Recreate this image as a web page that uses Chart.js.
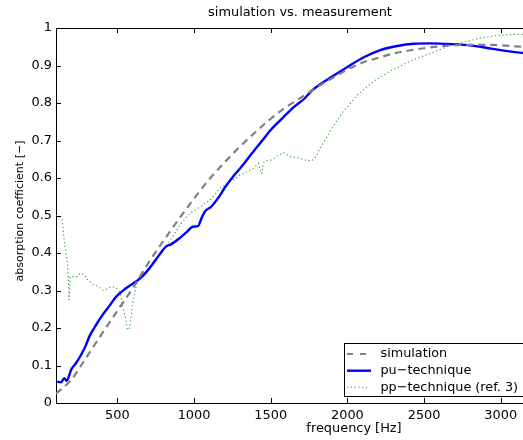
<!DOCTYPE html>
<html>
<head>
<meta charset="utf-8">
<script src="https://cdn.jsdelivr.net/npm/chart.js@4.4.1/dist/chart.umd.min.js"></script>
<style>
  html, body { margin: 0; padding: 0; background: #fff; overflow: hidden; }
  #wrap { width: 523px; height: 440px; }
</style>
</head>
<body>
<div id="wrap"><canvas id="c" width="523" height="440"></canvas></div>
<script>
const titleText = "simulation vs. measurement";
const xLabelText = "frequency [Hz]";
const yLabelText = "absorption coefficient [\u2212]";
const seriesNames = ["simulation", "pu\u2212technique", "pp\u2212technique (ref. 3)"];

const xTicks = [500, 1000, 1500, 2000, 2500, 3000];
const yTicks = [0, 0.1, 0.2, 0.3, 0.4, 0.5, 0.6, 0.7, 0.8, 0.9, 1];
const yTickLabels = ["0", "0.1", "0.2", "0.3", "0.4", "0.5", "0.6", "0.7", "0.8", "0.9", "1"];

const simFreq = [100, 200, 300, 400, 500, 600, 700, 800, 900, 1000, 1100, 1200, 1300, 1400, 1500, 1600, 1700, 1800, 1900, 2000, 2100, 2200, 2300, 2400, 2500, 2600, 2700, 2800, 2900, 3000, 3100, 3200];
const simVals = [0.025, 0.062, 0.123, 0.185, 0.246, 0.306, 0.372, 0.432, 0.49, 0.545, 0.597, 0.642, 0.684, 0.722, 0.758, 0.789, 0.815, 0.842, 0.866, 0.889, 0.908, 0.92, 0.932, 0.94, 0.946, 0.951, 0.954, 0.955, 0.955, 0.954, 0.951, 0.948];

const puFreq = [100, 133, 154, 170, 183, 198, 230, 263, 296, 317, 361, 404, 448, 491, 535, 578, 622, 661, 709, 774, 817, 850, 904, 950, 993, 1026, 1048, 1070, 1113, 1168, 1200, 1255, 1309, 1374, 1439, 1504, 1580, 1650, 1721, 1765, 1830, 1895, 2000, 2107, 2215, 2324, 2433, 2541, 2678, 2809, 2939, 3070, 3150];
const puVals = [0.057, 0.055, 0.066, 0.059, 0.07, 0.088, 0.106, 0.128, 0.155, 0.177, 0.208, 0.235, 0.259, 0.283, 0.299, 0.312, 0.324, 0.337, 0.359, 0.395, 0.417, 0.423, 0.439, 0.455, 0.47, 0.472, 0.492, 0.51, 0.524, 0.553, 0.574, 0.604, 0.63, 0.664, 0.697, 0.73, 0.761, 0.789, 0.812, 0.832, 0.852, 0.869, 0.896, 0.922, 0.941, 0.952, 0.958, 0.959, 0.957, 0.953, 0.945, 0.937, 0.933];

const ppFreq = [100, 110, 130, 140, 148, 159, 174, 180, 185, 189, 192, 210, 235, 255, 268, 290, 300, 311, 343, 376, 408, 426, 459, 491, 515, 524, 535, 552, 565, 580, 600, 622, 640, 665, 730, 796, 861, 908, 974, 1039, 1104, 1170, 1235, 1300, 1340, 1387, 1420, 1432, 1442, 1452, 1464, 1507, 1550, 1583, 1626, 1681, 1724, 1768, 1796, 1822, 1854, 1887, 1930, 1974, 2028, 2061, 2104, 2170, 2213, 2279, 2322, 2413, 2539, 2648, 2756, 2865, 2974, 3083, 3145];
const ppVals = [0.5, 0.5, 0.495, 0.49, 0.455, 0.417, 0.373, 0.337, 0.275, 0.3, 0.337, 0.337, 0.337, 0.345, 0.346, 0.34, 0.33, 0.328, 0.315, 0.31, 0.301, 0.303, 0.31, 0.308, 0.295, 0.283, 0.257, 0.23, 0.195, 0.2, 0.266, 0.31, 0.335, 0.34, 0.373, 0.408, 0.443, 0.475, 0.506, 0.523, 0.541, 0.573, 0.59, 0.608, 0.615, 0.626, 0.639, 0.62, 0.611, 0.64, 0.646, 0.648, 0.661, 0.667, 0.657, 0.654, 0.648, 0.646, 0.657, 0.679, 0.701, 0.725, 0.752, 0.778, 0.803, 0.82, 0.835, 0.858, 0.867, 0.886, 0.893, 0.913, 0.932, 0.95, 0.962, 0.973, 0.98, 0.983, 0.983];

const toPts = (fx, vy) => fx.map((f, i) => ({ x: f, y: vy[i] }));

const FONT = "'DejaVu Sans', sans-serif";

const decorPlugin = {
  id: 'decor',
  afterDraw(chart) {
    const ctx = chart.ctx;
    const a = chart.chartArea;
    const xs = chart.scales.x, ys = chart.scales.y;
    ctx.save();
    ctx.strokeStyle = '#000';
    ctx.lineWidth = 1;
    ctx.beginPath();
    ctx.moveTo(a.left, a.top + 0.5);
    ctx.lineTo(a.right, a.top + 0.5);
    ctx.stroke();
    const tl = 5;
    ctx.beginPath();
    xTicks.forEach(v => {
      const px = Math.round(xs.getPixelForValue(v)) + 0.5;
      ctx.moveTo(px, a.bottom); ctx.lineTo(px, a.bottom - tl);
      ctx.moveTo(px, a.top); ctx.lineTo(px, a.top + tl);
    });
    yTicks.forEach(v => {
      const py = Math.round(ys.getPixelForValue(v)) + 0.5;
      ctx.moveTo(a.left, py); ctx.lineTo(a.left + tl, py);
    });
    ctx.stroke();

    ctx.fillStyle = '#000';
    ctx.textAlign = 'center';
    ctx.textBaseline = 'middle';
    ctx.font = "12.9px " + FONT;
    ctx.fillText(titleText, 300, 12.5);
    ctx.fillText(xLabelText, 354, 429);
    ctx.save();
    ctx.translate(20, 211);
    ctx.rotate(-Math.PI / 2);
    ctx.font = "11px " + FONT;
    ctx.fillText(yLabelText, 0, 0);
    ctx.restore();

    const bx = 344.5, by = 343.5, bw = 190, bh = 53;
    ctx.fillStyle = '#fff';
    ctx.fillRect(bx, by, bw, bh);
    ctx.strokeStyle = '#000';
    ctx.lineWidth = 1;
    ctx.strokeRect(bx, by, bw, bh);
    const rows = [354, 370.7, 387.3];
    chart.data.datasets.forEach((ds, i) => {
      const y = rows[i];
      ctx.save();
      ctx.strokeStyle = ds.borderColor;
      ctx.lineWidth = ds.borderWidth;
      ctx.setLineDash(i === 0 ? [6, 7] : (ds.borderDash || []));
      ctx.beginPath();
      ctx.moveTo(347, y);
      ctx.lineTo(i === 1 ? 371 : 367, y);
      ctx.stroke();
      ctx.restore();
      ctx.fillStyle = '#000';
      ctx.textAlign = 'left';
      ctx.textBaseline = 'middle';
      ctx.font = "12.8px " + FONT;
      ctx.fillText(ds.label, 380.5, y);
    });
    ctx.restore();
  }
};

new Chart(document.getElementById('c'), {
  type: 'line',
  data: {
    datasets: [
      { label: seriesNames[0], data: toPts(simFreq, simVals), borderColor: '#808080', borderWidth: 2.2, borderDash: [7, 5], pointRadius: 0, cubicInterpolationMode: 'monotone', fill: false },
      { label: seriesNames[1], data: toPts(puFreq, puVals), borderColor: '#0000ff', borderWidth: 2.4, pointRadius: 0, cubicInterpolationMode: 'monotone', fill: false },
      { label: seriesNames[2], data: toPts(ppFreq, ppVals), borderColor: '#2aa02a', borderWidth: 1.1, borderDash: [1.2, 2.6], pointRadius: 0, tension: 0, fill: false }
    ]
  },
  options: {
    responsive: false,
    animation: false,
    events: [],
    layout: { padding: { left: 0, right: 0, top: 28, bottom: 0 } },
    plugins: { legend: { display: false }, title: { display: false }, tooltip: { enabled: false } },
    scales: {
      x: {
        type: 'linear', min: 100, max: 3145,
        afterBuildTicks: s => { s.ticks = xTicks.map(v => ({ value: v })); },
        afterFit: s => { s.height = 37; },
        grid: { display: false, drawTicks: false },
        border: { display: true, color: '#000', width: 1 },
        ticks: { color: '#000', font: { family: FONT, size: 12.9 }, padding: 4.5, maxRotation: 0, autoSkip: false, callback: v => String(v) }
      },
      y: {
        type: 'linear', min: 0, max: 1,
        afterBuildTicks: s => { s.ticks = yTicks.map(v => ({ value: v })); },
        afterFit: s => { s.width = 56; },
        grid: { display: false, drawTicks: false },
        border: { display: true, color: '#000', width: 1 },
        ticks: { color: '#000', font: { family: FONT, size: 12.9 }, padding: 4, autoSkip: false,
          callback: (v) => yTickLabels[yTicks.findIndex(t => Math.abs(t - v) < 1e-9)] }
      }
    }
  },
  plugins: [decorPlugin]
});
</script>
</body>
</html>
